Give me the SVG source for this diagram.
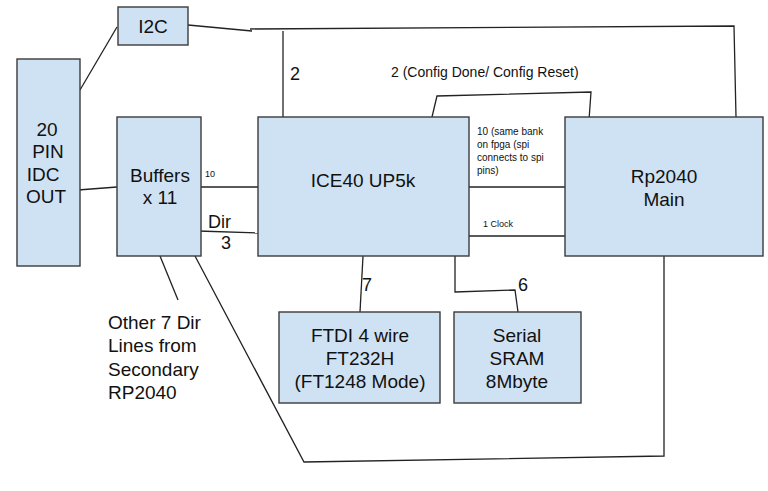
<svg xmlns="http://www.w3.org/2000/svg" width="768" height="491" viewBox="0 0 768 491">
<style>
.box{fill:#cfe2f3;stroke:#3b3b3b;stroke-width:1.4}
.ln{fill:none;stroke:#222;stroke-width:1.3}
text{font-family:"Liberation Sans",Arial,sans-serif;fill:#111}
.big{font-size:19px;text-anchor:middle}
.mid{font-size:19px;text-anchor:middle}
.lbl{font-size:18px}
.sm{font-size:10px}
.xs{font-size:9px}
</style>
<rect width="768" height="491" fill="#fff"/>
<g id="connectors">
<polyline class="ln" points="80,90 117,27"/>
<polyline class="ln" points="188,25 252,31"/>
<polyline class="ln" points="250,29 734,26 736,117"/>
<polyline class="ln" points="283,31 283,117"/>
<polyline class="ln" points="78,190 117,187"/>
<polyline class="ln" points="201,187 258,187"/>
<polyline class="ln" points="198,231 260,233"/>
<polyline class="ln" points="432,117 437,96 591,92 589,120"/>
<polyline class="ln" points="469,187 565,187"/>
<polyline class="ln" points="469,236 565,236"/>
<polyline class="ln" points="363,256 360,312"/>
<polyline class="ln" points="455,256 455,292 515,290 518,312"/>
<polyline class="ln" points="160,256 178,300"/>
<polyline class="ln" points="195,256 304,462 664,456 664,256"/>
<text class="lbl" x="290" y="80">2</text>
<text x="391" y="77" style="font-size:14px">2 (Config Done/ Config Reset)</text>
<text class="xs" x="205" y="177">10</text>
<text class="lbl" x="208" y="228">Dir</text>
<text class="lbl" x="221" y="249">3</text>
<text class="sm" x="477" y="135">10 (same bank</text>
<text class="sm" x="477" y="148">on fpga (spi</text>
<text class="sm" x="477" y="161">connects to spi</text>
<text class="sm" x="477" y="174">pins)</text>
<text class="xs" x="483" y="227">1 Clock</text>
<text class="lbl" x="362" y="291">7</text>
<text class="lbl" x="518" y="291">6</text>
<text x="108" y="329" style="font-size:19px">Other 7 Dir</text>
<text x="108" y="352" style="font-size:19px">Lines from</text>
<text x="108" y="376" style="font-size:19px">Secondary</text>
<text x="108" y="399" style="font-size:19px">RP2040</text>
</g>
<g id="i2c"><rect class="box" x="118" y="7" width="70" height="38"/><text class="big" x="153" y="33">I2C</text></g>
<g id="idc"><rect class="box" x="17" y="59" width="63" height="207"/>
<text class="big" x="47" y="136">20</text><text class="big" x="48" y="158">PIN</text><text class="big" x="43" y="181">IDC</text><text class="big" x="46" y="203">OUT</text></g>
<g id="buffers"><rect class="box" x="117" y="117" width="84" height="139"/>
<text class="big" x="160" y="182">Buffers</text><text class="big" x="160" y="204">x 11</text></g>
<g id="ice40"><rect class="box" x="258" y="117" width="211" height="139"/>
<text class="big" x="363" y="187">ICE40 UP5k</text></g>
<g id="rp2040"><rect class="box" x="565" y="117" width="198" height="139"/>
<text class="big" x="664" y="183">Rp2040</text><text class="big" x="664" y="206">Main</text></g>
<g id="ftdi"><rect class="box" x="279" y="312" width="161" height="91"/>
<text class="mid" x="360" y="342">FTDI 4 wire</text><text class="mid" x="360" y="365">FT232H</text><text class="mid" x="360" y="388">(FT1248 Mode)</text></g>
<g id="sram"><rect class="box" x="454" y="312" width="127" height="91"/>
<text class="mid" x="517" y="342">Serial</text><text class="mid" x="517" y="365">SRAM</text><text class="mid" x="517" y="388">8Mbyte</text></g>
</svg>
